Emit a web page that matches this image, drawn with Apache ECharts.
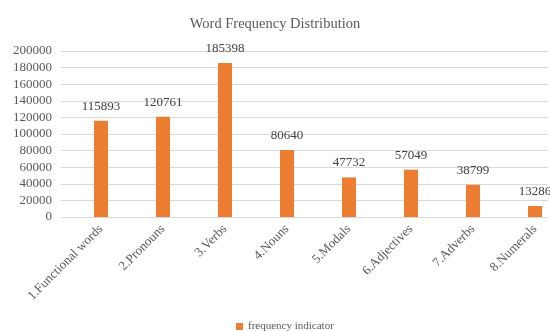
<!DOCTYPE html>
<html>
<head>
<meta charset="utf-8">
<script src="https://cdn.jsdelivr.net/npm/echarts@6/dist/echarts.min.js"></script>
<style>
  html, body { margin: 0; padding: 0; background: #fff; }
  #grafics { width: 550px; height: 331px; }
</style>
</head>
<body>
<div id="grafics"></div>
<script>
  var categories = ['1.Functional words', '2.Pronouns', '3.Verbs', '4.Nouns',
    '5.Modals', '6.Adjectives', '7.Adverbs', '8.Numerals'];
  var frequency = [115893, 120761, 185398, 80640, 47732, 57049, 38799, 13286];
  var yTicks = [0, 20000, 40000, 60000, 80000, 100000, 120000, 140000, 160000, 180000, 200000];

  var serif = "'Liberation Serif', 'Times New Roman', serif";

  var dom = document.getElementById('grafics');
  var myChart = echarts.init(dom, null, { renderer: 'canvas' });

  var option = {
    animation: false,
    title: {
      text: 'Word Frequency Distribution',
      left: 'center',
      top: 12,
      textStyle: { fontFamily: serif, fontSize: 14.5, fontWeight: 'normal', color: '#595959' }
    },
    legend: {
      bottom: -6,
      left: 231,
      itemWidth: 7,
      itemHeight: 7,
      icon: 'rect',
      textStyle: { fontFamily: serif, fontSize: 11, color: '#595959' },
      data: ['frequency indicator']
    },
    grid: [
      // gridlines span a bit wider than the bars (picture is cropped on the right)
      { left: 61, right: 2, top: 51, bottom: 114, outerBoundsMode: 'none' },
      { left: 70, right: -16, top: 51, bottom: 114, outerBoundsMode: 'none' }
    ],
    xAxis: [
      { gridIndex: 0, type: 'value', min: 0, max: 1, show: false },
      {
        gridIndex: 1,
        type: 'category',
        data: categories,
        axisLine: { show: false },
        axisTick: { show: false },
        axisLabel: {
          rotate: 45,
          margin: 10,
          interval: 0,
          fontFamily: serif,
          fontSize: 13,
          color: '#595959'
        }
      }
    ],
    yAxis: [
      {
        gridIndex: 0,
        type: 'value',
        min: yTicks[0],
        max: yTicks[yTicks.length - 1],
        interval: yTicks[1] - yTicks[0],
        axisLine: { show: false },
        axisTick: { show: false },
        splitLine: { lineStyle: { color: '#d9d9d9', width: 1 } },
        axisLabel: {
          margin: 9,
          fontFamily: serif,
          fontSize: 13,
          color: '#595959',
          formatter: function (v) { return String(v); }
        }
      },
      {
        gridIndex: 1,
        type: 'value',
        min: yTicks[0],
        max: yTicks[yTicks.length - 1],
        show: false
      }
    ],
    series: [
      {
        name: 'frequency indicator',
        type: 'bar',
        xAxisIndex: 1,
        yAxisIndex: 1,
        data: frequency,
        barWidth: 14,
        itemStyle: { color: '#ED7D31' },
        label: {
          show: true,
          position: 'top',
          distance: 8,
          fontFamily: serif,
          fontSize: 13,
          color: '#404040'
        }
      }
    ]
  };

  if (option && typeof option === 'object') {
    myChart.setOption(option);
  }
  window.addEventListener('resize', myChart.resize);
</script>
</body>
</html>
